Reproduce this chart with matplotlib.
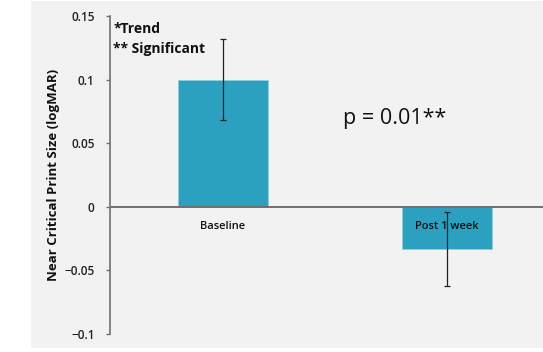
import matplotlib
matplotlib.use("Agg")
import matplotlib.pyplot as plt
from matplotlib.patches import Rectangle

# data
kategori = ["Baseline", "Post 1 week"]
nilai = [0.100, -0.033]
galat = [0.032, 0.029]
yticks = [-0.1, -0.05, 0, 0.05, 0.1, 0.15]
ytick_labels = ["\u22120.1", "\u22120.05", "0", "0.05", "0.1", "0.15"]

plt.rcParams["font.family"] = ["Open Sans", "DejaVu Sans"]

fig = plt.figure(figsize=(5.43, 3.52), dpi=100)
fig.patch.set_facecolor("white")
# panel abu-abu di belakang grafik
fig.patches.append(Rectangle((31 / 543, 4 / 352), 1 - 31 / 543, 347 / 352,
                             transform=fig.transFigure, facecolor="#f2f2f2",
                             edgecolor="none", zorder=-1))

ax = fig.add_axes([110 / 543, 18 / 352, 433 / 543, 318 / 352])
ax.set_zorder(2)
ax.set_facecolor("none")

x = range(len(kategori))
ax.bar(x, nilai, width=0.4, color="#2ca1bf", edgecolor="#8fd0e0", linewidth=0.6, zorder=2)
ax.errorbar(x, nilai, yerr=galat, fmt="none", ecolor="#222222", elinewidth=0.9,
            capsize=2.5, capthick=0.9, zorder=3)

ax.set_xlim(-0.504, 1.43)
ax.set_ylim(-0.1, 0.15)
ax.axhline(0, color="#707070", linewidth=1.4, zorder=4)

ax.set_yticks(yticks)
ax.set_yticklabels(ytick_labels, fontsize=8.5, fontweight="semibold", color="#222222")
ax.tick_params(axis="y", direction="out", length=3, color="#707070", width=1, pad=8)
ax.set_xticks([])
for s in ["top", "right", "bottom"]:
    ax.spines[s].set_visible(False)
ax.spines["left"].set_color("#707070")
ax.spines["left"].set_linewidth(1.2)

for i, nama in enumerate(kategori):
    ax.text(i, -0.0155, nama, ha="center", va="center", fontsize=8,
            fontweight="semibold", color="#111111", zorder=5)

ax.set_ylabel("Near Critical Print Size (logMAR)", fontsize=9.5, fontweight="bold",
              color="#111111", labelpad=3)

ax.text(-0.49, 0.1395, "*Trend", fontsize=10, fontweight="bold", color="#111111",
        va="center", ha="left")
ax.text(-0.49, 0.1238, "** Significant", fontsize=10, fontweight="bold", color="#111111",
        va="center", ha="left")
ax.text(0.535, 0.0695, "p = 0.01**", fontsize=15.5, color="#111111", va="center", ha="left")

plt.savefig("out.png", dpi=100)
